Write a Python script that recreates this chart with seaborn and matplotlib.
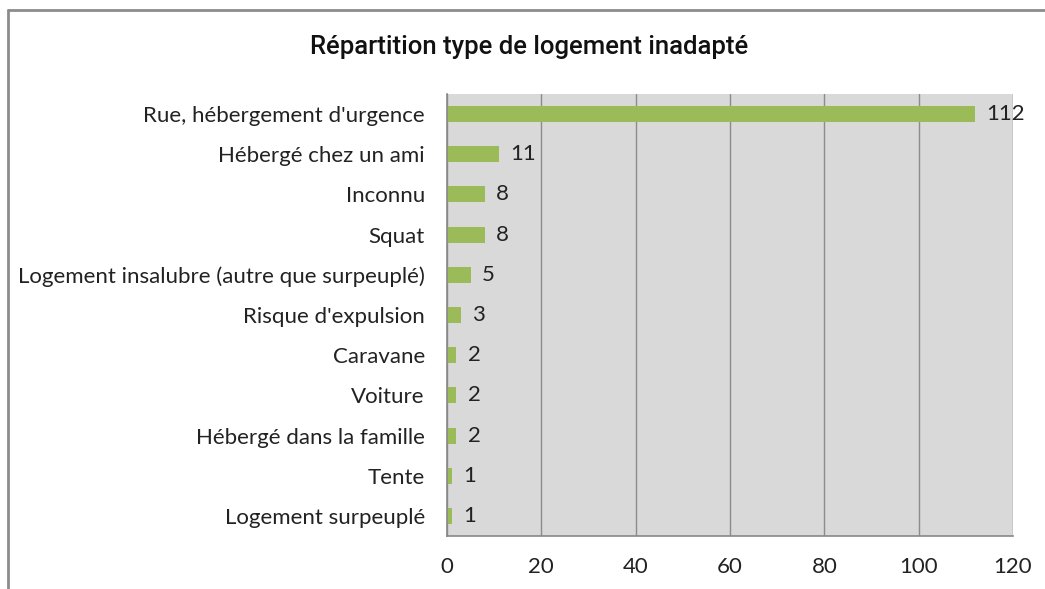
import matplotlib
matplotlib.use("Agg")
import matplotlib.pyplot as plt
from matplotlib.lines import Line2D
import seaborn as sns
import pandas as pd
import numpy as np

categories = [
    "Rue, hébergement d'urgence",
    "Hébergé chez un ami",
    "Inconnu",
    "Squat",
    "Logement insalubre (autre que surpeuplé)",
    "Risque d'expulsion",
    "Caravane",
    "Voiture",
    "Hébergé dans la famille",
    "Tente",
    "Logement surpeuplé",
]
values = [112, 11, 8, 8, 5, 3, 2, 2, 2, 1, 1]
x_ticks = [0, 20, 40, 60, 80, 100, 120]
title = "Répartition type de logement inadapté"

df = pd.DataFrame({"categorie": categories, "valeur": values})

sns.set_style("white")
plt.rcParams['font.family'] = ['Lato', 'DejaVu Sans']

fig = plt.figure(figsize=(10.45, 5.89), dpi=100)
ax = fig.add_axes([447 / 1045, 1 - 536 / 589, (1013 - 447) / 1045, (536 - 94) / 589])

sns.barplot(data=df, x="valeur", y="categorie", orient="h", color="#9bbb59",
            saturation=1, width=0.4, linewidth=0, ax=ax)

ax.set_facecolor("#d9d9d9")
ax.set_xlim(0, 120)
ax.set_ylim(len(categories) - 0.5, -0.5)
ax.set_xticks(x_ticks)
ax.set_xticklabels([str(t) for t in x_ticks], fontsize=16)
ax.tick_params(axis="y", which="major", length=0, labelsize=16, pad=16, labelcolor="#222222")
ax.tick_params(axis="x", which="major", length=5, color="#888888", pad=10, direction="out",
               labelcolor="#222222")
ax.set_yticks(np.arange(-0.5, len(categories), 1), minor=True)
ax.tick_params(axis="y", which="minor", length=5, color="#888888", direction="out")
ax.set_xlabel("")
ax.set_ylabel("")
ax.grid(axis="x", color="#8c8c8c", linewidth=1)
ax.set_axisbelow(True)

for side in ["top", "right"]:
    ax.spines[side].set_visible(False)
for side in ["left", "bottom"]:
    ax.spines[side].set_color("#888888")
    ax.spines[side].set_linewidth(1.2)

# data labels
for i, v in enumerate(values):
    ax.text(v + 2.4, i, str(v), va="center", ha="left", fontsize=16, color="#222222")

fig.text(529 / 1045, 1 - 47 / 589, title, ha="center", va="center",
         fontsize=18.5, family=['Roboto', 'DejaVu Sans'], weight="medium", color="#111111")

# outer chart border
fig.add_artist(Line2D([8 / 1045, 8 / 1045], [0, 1 - 10 / 589], transform=fig.transFigure,
                      color="#8c8c8c", linewidth=2))
fig.add_artist(Line2D([8 / 1045, 1], [1 - 10 / 589, 1 - 10 / 589], transform=fig.transFigure,
                      color="#8c8c8c", linewidth=2))

fig.savefig("out.png", dpi=100)
